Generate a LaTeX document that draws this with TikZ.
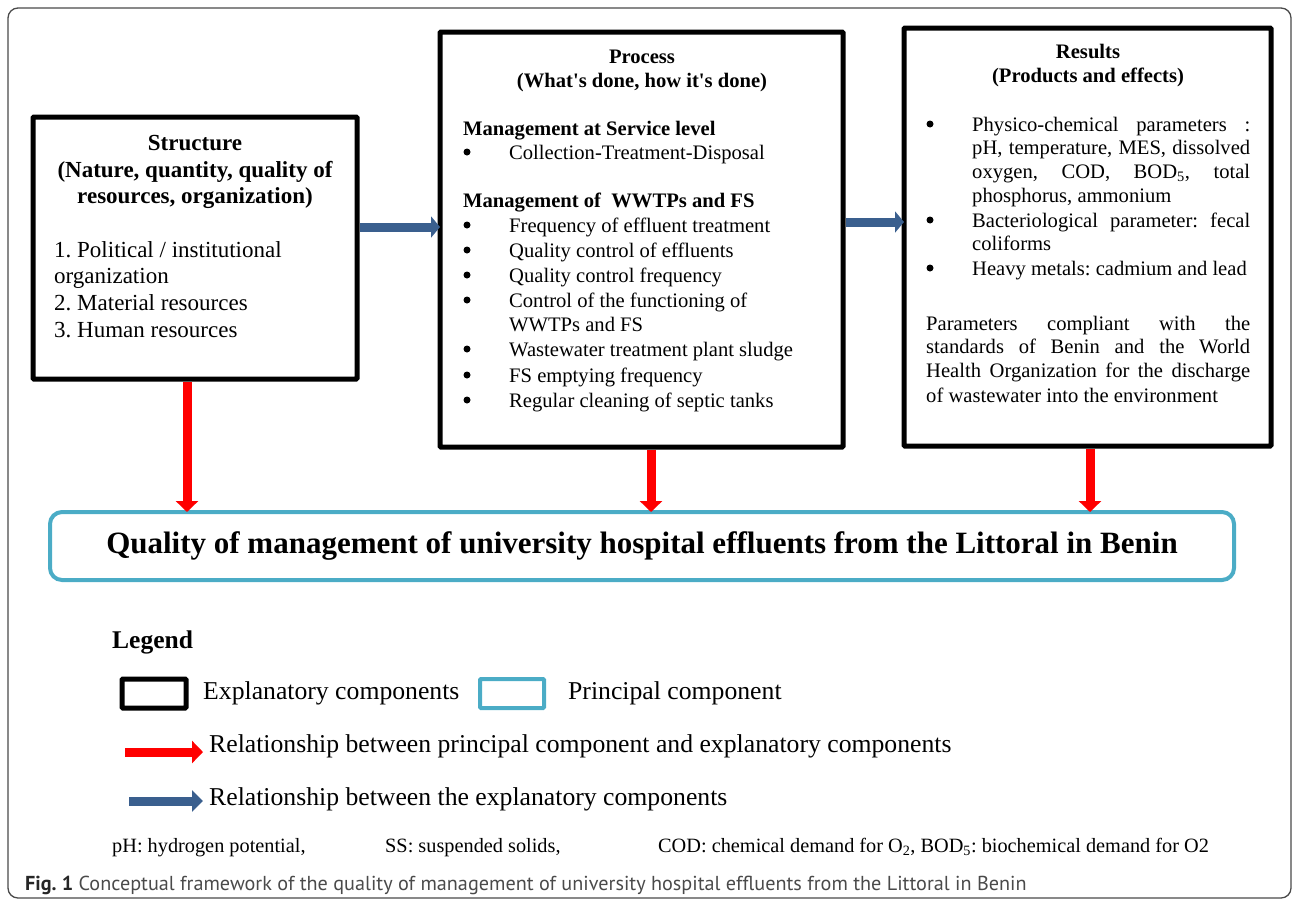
\documentclass[tikz,border=0pt]{standalone}
\usepackage{fontspec}
\setmainfont{Liberation Serif}
\newfontfamily\capfont{PT Sans}
\usepackage{xcolor}
\usetikzlibrary{arrows.meta, positioning}
\definecolor{RelBlue}{HTML}{3A5F8E}
\definecolor{PrincCyan}{HTML}{4BACC6}
\definecolor{FrameGray}{HTML}{4A4A4A}
\frenchspacing

\tikzset{
  outerframe/.style={draw=FrameGray, line width=1.3pt, rounded corners=10pt},
  expbox/.style={draw=black, line width=5pt, rounded corners=1pt, outer sep=0pt},
  princbox/.style={draw=PrincCyan, line width=4pt, rounded corners=12pt, outer sep=0pt},
  redarrow/.style={draw=red, line width=9pt, -{Triangle[length=11pt,width=22pt]}},
  bluearrow/.style={draw=RelBlue, line width=9pt, -{Triangle[length=9pt,width=21pt]}},
  bulletdot/.style={circle, fill=black, inner sep=0pt, minimum size=7pt},
  structtext/.style={font=\fontsize{23}{26}\selectfont, inner sep=0pt},
  structhead/.style={font=\fontsize{23}{26}\selectfont\bfseries, inner sep=0pt},
  proctext/.style={font=\fontsize{20.6}{24}\selectfont, inner sep=0pt},
  prochead/.style={font=\fontsize{20.6}{24}\selectfont\bfseries, inner sep=0pt},
  legtext/.style={font=\fontsize{25.7}{30}\selectfont, inner sep=0pt},
  leghead/.style={font=\fontsize{25.5}{30}\selectfont\bfseries, inner sep=0pt},
  notetext/.style={font=\fontsize{20.3}{24}\selectfont, inner sep=0pt},
}

\begin{document}
\begin{tikzpicture}[x=1pt, y=-1pt]
  \useasboundingbox (0,0) rectangle (1292,900);
  % Outer frame
  \draw[outerframe] (8,8) rectangle (1291,898);

  % Explanatory boxes
  \node[expbox, minimum width=324pt, minimum height=262pt, anchor=north west] (structure) at (33,117) {};
  \node[expbox, minimum width=403pt, minimum height=415pt, anchor=north west] (process) at (440,32) {};
  \node[expbox, minimum width=367pt, minimum height=418pt, anchor=north west] (results) at (904,28) {};

  % Principal component
  \node[princbox, minimum width=1184pt, minimum height=68pt, font=\fontsize{31}{34}\selectfont\bfseries] (quality) at (642,546)
    {Quality of management of university hospital effluents from the Littoral in Benin};

  % Structure text
  \foreach \yy/\txt [count=\i] in {150/Structure, 177/{(Nature, quantity, quality of}, 203/{resources, organization)}}
    \node[structhead, anchor=base] (st-h\i) at (195,\yy) {\txt};
  \foreach \yy/\txt [count=\i] in {257/{1. Political / institutional}, 283/organization, 310/{2. Material resources}, 337/{3. Human resources}}
    \node[structtext, anchor=base west] (st-l\i) at (54,\yy) {\txt};

  % Process text
  \node[prochead, anchor=base] (pr-h1) at (642,63) {Process};
  \node[prochead, anchor=base] (pr-h2) at (642,87) {(What\textquotesingle s done, how it\textquotesingle s done)};
  \node[prochead, anchor=base west] (pr-s1) at (463,135) {Management at Service level};
  \node[bulletdot] (pr-b0) at (467,152) {};
  \node[proctext, anchor=base west] (pr-i0) at (509,159) {Collection-Treatment-Disposal};
  \node[prochead, anchor=base west] (pr-s2) at (463,207) {Management of\ \ WWTPs and FS};
  \foreach \yy/\txt [count=\i] in {232/Frequency of effluent treatment, 257/Quality control of effluents,
      282/Quality control frequency, 307/Control of the functioning of, 356/Wastewater treatment plant sludge,
      382/FS emptying frequency, 407/Regular cleaning of septic tanks} {
    \node[bulletdot] (pr-b\i) at (467,\yy-7) {};
    \node[proctext, anchor=base west] (pr-i\i) at (509,\yy) {\txt};
  }
  \node[proctext, anchor=base west] (pr-c4) at (509,331) {WWTPs and FS};

  % Results text
  \node[prochead, anchor=base] (rs-h1) at (1088,58) {Results};
  \node[prochead, anchor=base] (rs-h2) at (1088,82) {(Products and effects)};
  \foreach \yy in {131, 227, 275}
    \node[bulletdot] (rs-b\yy) at (930,\yy-7) {};
  \foreach \yy/\txt [count=\i] in {131/{Physico-chemical parameters :}, 154/{pH, temperature, MES, dissolved},
      178/{oxygen, COD, BOD\textsubscript{5}, total}, 202/{phosphorus, ammonium\hfill},
      227/{Bacteriological parameter: fecal}, 250/{coliforms\hfill}, 275/{Heavy metals: cadmium and lead\hfill}}
    \node[proctext, anchor=base west] (rs-i\i) at (972,\yy) {\makebox[278pt][s]{\txt}};
  \foreach \yy/\txt [count=\i] in {330/{Parameters compliant with the}, 353/{standards of Benin and the World},
      377/{Health Organization for the discharge}, 402/{of wastewater into the environment\hfill}}
    \node[proctext, anchor=base west] (rs-p\i) at (926,\yy) {\makebox[324pt][s]{\txt}};

  % Relationships
  \draw[bluearrow, shorten <=2.5pt] (structure.east |- 0,227) -- (process.west |- 0,227);
  \draw[bluearrow, shorten <=2.5pt] (process.east |- 0,222) -- (results.west |- 0,222);
  \draw[redarrow, shorten <=2.5pt] (structure.south -| 187,0) -- (quality.north -| 187,0);
  \draw[redarrow, shorten <=2.5pt] (process.south -| 651,0) -- (quality.north -| 651,0);
  \draw[redarrow, shorten <=2.5pt] (results.south -| 1090,0) -- (quality.north -| 1090,0);

  % Legend
  \node[leghead, anchor=base west] (lg-title) at (112,648) {Legend};
  \node[expbox, minimum width=64pt, minimum height=29pt, anchor=north west] (lg-expbox) at (122,679) {};
  \node[legtext, anchor=base west] (lg-exp) at (203,699) {Explanatory components};
  \node[princbox, rounded corners=1pt, minimum width=64pt, minimum height=29pt, anchor=north west] (lg-princbox) at (480,679) {};
  \node[legtext, anchor=base west] (lg-princ) at (568,699) {Principal component};
  \node[legtext, anchor=base west] (lg-red) at (209,752) {Relationship between principal component and explanatory components};
  \node[legtext, anchor=base west] (lg-blue) at (209,805) {Relationship between the explanatory components};
  \coordinate (lr-tail) at (125,752);
  \coordinate (lb-tail) at (129,801);
  \draw[redarrow] (lr-tail) -- (lr-tail -| 203,0);
  \draw[bluearrow, -{Triangle[length=11pt,width=21pt]}] (lb-tail) -- (lb-tail -| 203,0);

  % Abbreviations
  \node[notetext, anchor=base west] (nt-ph) at (112,852) {pH: hydrogen potential,};
  \node[notetext, anchor=base west] (nt-ss) at (385,852) {SS: suspended solids,};
  \node[notetext, anchor=base west] (nt-cod) at (658,852) {COD: chemical demand for O\textsubscript{2}, BOD\textsubscript{5}: biochemical demand for O2};

  % Caption
  \node[inner sep=0pt, anchor=base west, font=\capfont\fontsize{20.2}{24}\selectfont, text=FrameGray] (caption) at (25,890)
    {\textbf{\color{black!85}Fig. 1} Conceptual framework of the quality of management of university hospital effluents from the Littoral in Benin};
\end{tikzpicture}
\end{document}
